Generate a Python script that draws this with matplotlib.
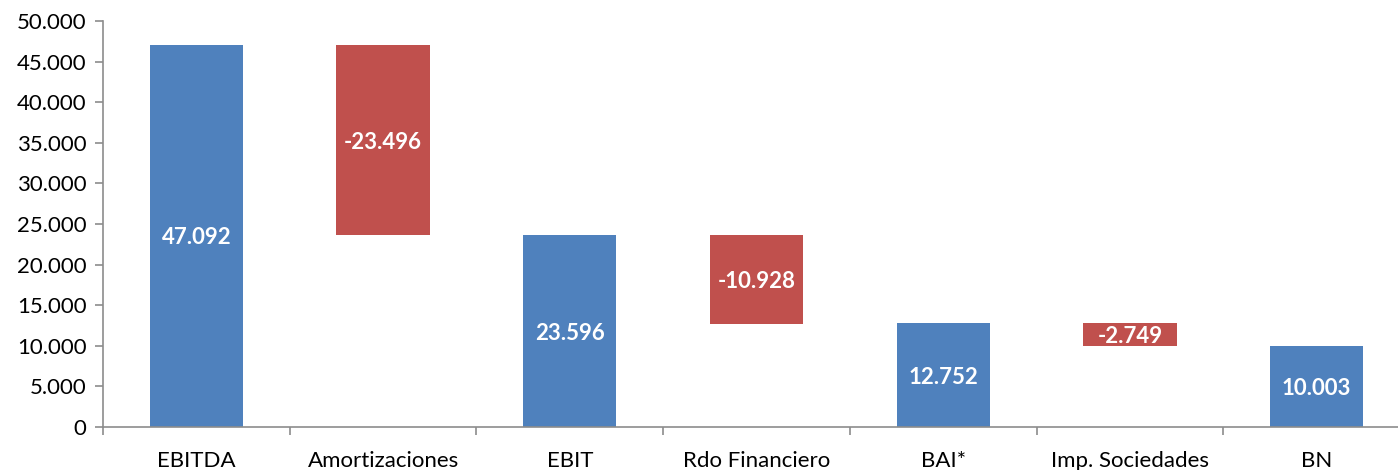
import matplotlib
matplotlib.use("Agg")
import matplotlib.pyplot as plt
from matplotlib.ticker import FuncFormatter, FixedLocator

categories = ["EBITDA", "Amortizaciones", "EBIT", "Rdo Financiero", "BAI*", "Imp. Sociedades", "BN"]
kinds = ["total", "change", "total", "change", "total", "change", "total"]
values = [47092, -23496, 23596, -10928, 12752, -2749, 10003]

blue = "#4F81BD"
red = "#C0504D"
spine = "#8C8C8C"

plt.rcParams['font.family'] = ['Lato', 'DejaVu Sans']

fig = plt.figure(figsize=(13.98, 4.70), dpi=100)
ax = fig.add_axes([103/1398, 1-427/470, 1-103/1398, (427-21)/470])

running = 0
for i, (k, v) in enumerate(zip(kinds, values)):
    if k == "total":
        bottom, height, color = 0, v, blue
        running = v
    else:
        bottom, height, color = running + v, -v, red
        running = running + v
    ax.bar(i, height, bottom=bottom, width=0.5, color=color, zorder=2)
    label = f"{v:,}".replace(",", ".")
    ax.text(i, bottom + height/2, label, ha="center", va="center_baseline", color="white",
            fontsize=16, fontweight="bold", zorder=3)

ax.set_xlim(-0.5, 6.5 - 12/186.8)
ax.set_ylim(0, 50000)
ax.set_yticks(range(0, 50001, 5000))
ax.yaxis.set_major_formatter(FuncFormatter(lambda x, p: f"{int(x):,}".replace(",", ".")))
ax.set_xticks(range(len(categories)))
ax.set_xticklabels(categories)
ax.xaxis.set_minor_locator(FixedLocator([i + 0.5 for i in range(-1, 7)]))
ax.tick_params(axis="x", which="major", length=0, pad=17, labelsize=16, colors="black")
ax.tick_params(axis="x", which="minor", length=6, width=1.2, color=spine, direction="out")
ax.tick_params(axis="y", length=6, width=1.2, color=spine, labelsize=16, pad=6)
for s in ["top", "right"]:
    ax.spines[s].set_visible(False)
for s in ["left", "bottom"]:
    ax.spines[s].set_color(spine)
    ax.spines[s].set_linewidth(1.2)

fig.savefig("out.png", dpi=100)
